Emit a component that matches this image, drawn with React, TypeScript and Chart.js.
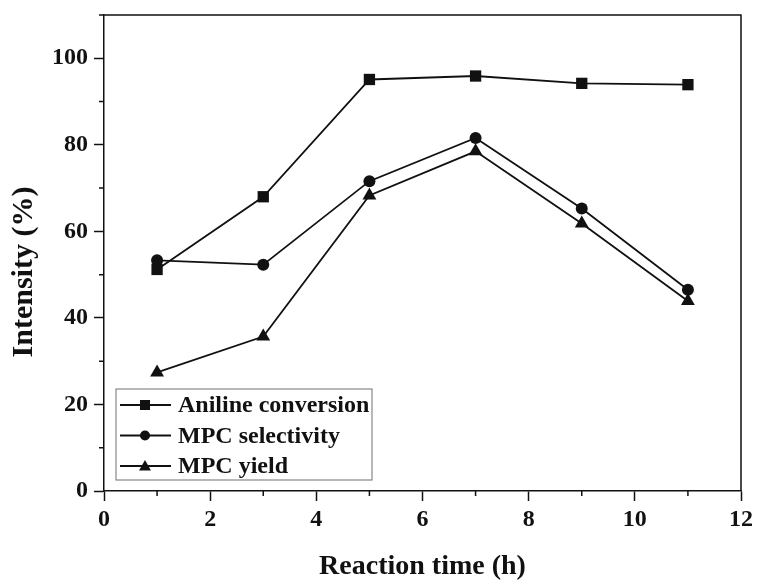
import React, { useEffect, useRef } from "react";
import { Chart, registerables } from "chart.js";

Chart.register(...registerables);

const times = [1, 3, 5, 7, 9, 11];
const anilineConversion = [51.2, 68.0, 95.1, 95.9, 94.2, 93.9];
const mpcSelectivity = [53.3, 52.3, 71.6, 81.6, 65.3, 46.5];
const mpcYield = [27.4, 35.7, 68.3, 78.5, 61.8, 43.9];

const xMajorTicks = [0, 2, 4, 6, 8, 10, 12];
const xMinorTicks = [1, 3, 5, 7, 9, 11];
const yMajorTicks = [0, 20, 40, 60, 80, 100];
const yMinorTicks = [10, 30, 50, 70, 90, 110];

const seriesNames = ["Aniline conversion", "MPC selectivity", "MPC yield"];
const seriesStyles = ["rect", "circle", "triangle"];
const yTitle = "Intensity (%)";

const FONT = "'Liberation Serif', 'Times New Roman', serif";

const framePlugin = {
  id: "frameAndMinor",
  afterDraw(chart: any) {
    const { ctx, chartArea } = chart;
    const xs = chart.scales.x;
    const ys = chart.scales.y;
    ctx.save();
    ctx.strokeStyle = "#111";
    ctx.lineWidth = 1.5;
    ctx.beginPath();
    ctx.moveTo(chartArea.left, chartArea.top);
    ctx.lineTo(chartArea.right, chartArea.top);
    ctx.lineTo(chartArea.right, chartArea.bottom);
    ctx.stroke();
    // minor ticks
    ctx.beginPath();
    xMinorTicks.forEach((v) => {
      const px = xs.getPixelForValue(v);
      ctx.moveTo(px, chartArea.bottom);
      ctx.lineTo(px, chartArea.bottom + 5);
    });
    yMinorTicks.forEach((v) => {
      const py = ys.getPixelForValue(v);
      ctx.moveTo(chartArea.left, py);
      ctx.lineTo(chartArea.left - 5, py);
    });
    ctx.stroke();

    // y axis title
    ctx.save();
    ctx.translate(24, 272);
    ctx.rotate(-Math.PI / 2);
    ctx.font = `bold 30px ${FONT}`;
    ctx.fillStyle = "#111";
    ctx.textAlign = "center";
    ctx.textBaseline = "middle";
    ctx.fillText(yTitle, 0, 0);
    ctx.restore();

    // legend
    const lx = chartArea.left + 12;
    const lw = 256;
    const lh = 91;
    const ly = chartArea.bottom - 11 - lh;
    ctx.strokeStyle = "#888";
    ctx.lineWidth = 1.2;
    ctx.strokeRect(lx, ly, lw, lh);
    ctx.font = `bold 24px ${FONT}`;
    ctx.textBaseline = "middle";
    ctx.textAlign = "left";
    ctx.fillStyle = "#111";
    seriesNames.forEach((name, i) => {
      const cy = ly + 16 + i * 30.5;
      ctx.strokeStyle = "#111";
      ctx.lineWidth = 1.8;
      ctx.beginPath();
      ctx.moveTo(lx + 4, cy);
      ctx.lineTo(lx + 55, cy);
      ctx.stroke();
      const mx = lx + 29;
      ctx.beginPath();
      if (seriesStyles[i] === "rect") {
        ctx.rect(mx - 5, cy - 5, 10, 10);
      } else if (seriesStyles[i] === "circle") {
        ctx.arc(mx, cy, 5, 0, Math.PI * 2);
      } else {
        ctx.moveTo(mx, cy - 6);
        ctx.lineTo(mx + 6, cy + 4.5);
        ctx.lineTo(mx - 6, cy + 4.5);
        ctx.closePath();
      }
      ctx.fill();
      ctx.fillText(name, lx + 62, cy + 1);
    });
    ctx.restore();
  },
};

export default function App() {
  const ref = useRef<HTMLCanvasElement>(null);
  useEffect(() => {
    document.body.style.margin = "0";
    const canvas = ref.current!;
    const mk = (data: number[]) => times.map((t, i) => ({ x: t, y: data[i] }));
    const common = {
      borderColor: "#111",
      backgroundColor: "#111",
      borderWidth: 1.8,
      pointBorderWidth: 0,
      showLine: true,
      tension: 0,
    };
    const chart = new Chart(canvas, {
      type: "scatter",
      data: {
        datasets: [
          { ...common, label: seriesNames[0], data: mk(anilineConversion), pointStyle: "rect", pointRadius: 8 },
          { ...common, label: seriesNames[1], data: mk(mpcSelectivity), pointStyle: "circle", pointRadius: 6 },
          { ...common, label: seriesNames[2], data: mk(mpcYield), pointStyle: "triangle", pointRadius: 8 },
        ],
      },
      options: {
        animation: false,
        responsive: false,
        devicePixelRatio: 1,
        layout: { padding: { top: 15, right: 17, left: 0, bottom: 0 } },
        plugins: { legend: { display: false }, tooltip: { enabled: false } },
        scales: {
          x: {
            type: "linear",
            min: 0,
            max: 12,
            afterBuildTicks: (s: any) => {
              s.ticks = xMajorTicks.map((v) => ({ value: v }));
            },
            afterFit: (s: any) => {
              s.height = 90;
              s.paddingLeft = 0;
              s.paddingRight = 0;
            },
            grid: { drawOnChartArea: false, tickLength: 10, tickWidth: 1.5, tickColor: "#111" },
            border: { display: true, color: "#111", width: 1.5 },
            ticks: { color: "#111", font: { family: FONT, size: 24, weight: "bold" }, padding: 4, maxRotation: 0 },
            title: {
              display: true,
              text: "Reaction time (h)",
              color: "#111",
              font: { family: FONT, size: 28, weight: "bold" },
              padding: { top: 0, bottom: -3 },
            },
          },
          y: {
            type: "linear",
            min: 0,
            max: 110,
            afterBuildTicks: (s: any) => {
              s.ticks = yMajorTicks.map((v) => ({ value: v }));
            },
            afterFit: (s: any) => {
              s.width = 104;
              s.paddingTop = 0;
              s.paddingBottom = 0;
            },
            grid: { drawOnChartArea: false, tickLength: 10, tickWidth: 1.5, tickColor: "#111" },
            border: { display: true, color: "#111", width: 1.5 },
            ticks: { color: "#111", font: { family: FONT, size: 24, weight: "bold" }, padding: 6 },
            title: { display: false },
          },
        },
      },
      plugins: [framePlugin],
    } as any);
    return () => chart.destroy();
  }, []);
  return <canvas ref={ref} width={758} height={581} style={{ display: "block" }} />;
}
